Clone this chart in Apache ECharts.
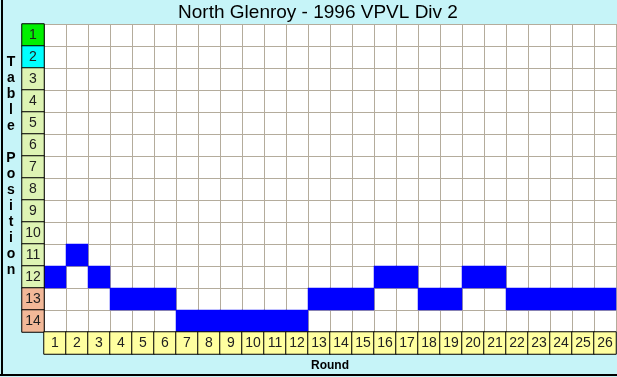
<!DOCTYPE html>
<html>
<head>
<meta charset="utf-8">
<script src="https://cdn.jsdelivr.net/npm/echarts@6/dist/echarts.min.js"></script>
<style>
  html, body { margin: 0; padding: 0; }
  #container { width: 617px; height: 377px; }
</style>
</head>
<body>
<div id="container"></div>
<script>
// rounds on x, ladder positions on y
var rounds = ['1','2','3','4','5','6','7','8','9','10','11','12','13','14','15','16','17','18','19','20','21','22','23','24','25','26'];
var positions = ['1','2','3','4','5','6','7','8','9','10','11','12','13','14'];
var placing = [12,11,12,13,13,13,14,14,14,14,14,14,13,13,13,12,12,13,13,12,12,13,13,13,13,13];

function cellColor(pos) {
	if (pos == 1) return '#00f000';
	if (pos == 2) return '#00ffff';
	if (pos >= 13) return '#f2b898';
	return '#def4b4';
}

var dom = document.getElementById('container');
var myChart = echarts.init(dom);

var dataPlacing = [];
placing.forEach(function (p, i) {
	dataPlacing.push([i, p - 1, p]);
});

var dataPos = [];
positions.forEach(function (p, i) {
	dataPos.push({ value: [0, i, i + 1], itemStyle: { color: cellColor(i + 1) } });
});

var dataRounds = [];
rounds.forEach(function (r, i) {
	dataRounds.push([i, 0, i + 1]);
});

var hidden = { axisLine: { show: false }, axisTick: { show: false }, axisLabel: { show: false } };

var option = {
	backgroundColor: '#c6f4f8',
	animation: false,
	grid: [
		{ left: 44, top: 24, width: 572, height: 308, show: true, backgroundColor: '#ffffff', borderWidth: 0 },
		{ left: 22, top: 24, width: 22, height: 308 },
		{ left: 44, top: 332, width: 572, height: 22 }
	],
	xAxis: [
		Object.assign({ type: 'category', gridIndex: 0, data: rounds, splitLine: { show: true, interval: 0, lineStyle: { color: '#b4ac9c', width: 1 } } }, hidden),
		Object.assign({ type: 'category', gridIndex: 1, data: [''] }, hidden),
		Object.assign({ type: 'category', gridIndex: 2, data: rounds }, hidden)
	],
	yAxis: [
		Object.assign({ type: 'category', gridIndex: 0, inverse: true, data: positions, splitLine: { show: true, interval: 0, lineStyle: { color: '#b4ac9c', width: 1 } } }, hidden),
		Object.assign({ type: 'category', gridIndex: 1, inverse: true, data: positions }, hidden),
		Object.assign({ type: 'category', gridIndex: 2, data: [''] }, hidden)
	],
	series: [
		{
			type: 'heatmap',
			xAxisIndex: 0,
			yAxisIndex: 0,
			data: dataPlacing,
			itemStyle: { color: '#0000ff', borderWidth: 0 },
			emphasis: { disabled: true }
		},
		{
			type: 'heatmap',
			xAxisIndex: 1,
			yAxisIndex: 1,
			data: dataPos,
			itemStyle: { borderColor: '#000000', borderWidth: 1 },
			label: {
				show: true,
				color: '#202020',
				fontFamily: 'Liberation Sans',
				fontSize: 14,
				formatter: function (p) { return positions[p.value[1]]; }
			},
			emphasis: { disabled: true }
		},
		{
			type: 'heatmap',
			xAxisIndex: 2,
			yAxisIndex: 2,
			data: dataRounds,
			itemStyle: { color: '#ffffa0', borderColor: '#000000', borderWidth: 1 },
			label: {
				show: true,
				color: '#202020',
				fontFamily: 'Liberation Sans',
				fontSize: 14,
				formatter: function (p) { return rounds[p.value[0]]; }
			},
			emphasis: { disabled: true }
		}
	],
	graphic: [
		{
			type: 'text',
			x: 318,
			y: 13,
			style: {
				text: 'North Glenroy - 1996 VPVL Div 2',
				font: '19px "Liberation Sans"',
				fill: '#000000',
				align: 'center',
				verticalAlign: 'middle'
			}
		},
		{
			type: 'line',
			shape: { x1: 22, y1: 24.5, x2: 617, y2: 24.5 },
			style: { stroke: '#000000', lineWidth: 1 }
		},
		{
			type: 'text',
			x: 11,
			y: 166,
			style: {
				text: 'T\na\nb\nl\ne\n \nP\no\ns\ni\nt\ni\no\nn',
				font: 'bold 14px "Liberation Sans"',
				lineHeight: 16,
				fill: '#000000',
				align: 'center',
				verticalAlign: 'middle'
			}
		},
		{
			type: 'text',
			x: 330,
			y: 366,
			style: {
				text: 'Round',
				font: 'bold 12px "Liberation Sans"',
				fill: '#000000',
				align: 'center',
				verticalAlign: 'middle'
			}
		},
		{
			type: 'line',
			shape: { x1: 2, y1: 0, x2: 2, y2: 376 },
			style: { stroke: '#000000', lineWidth: 2 }
		},
		{
			type: 'line',
			shape: { x1: 0, y1: 375, x2: 617, y2: 375 },
			style: { stroke: '#000000', lineWidth: 2 }
		}
	]
};

myChart.setOption(option, true);
</script>
</body>
</html>
